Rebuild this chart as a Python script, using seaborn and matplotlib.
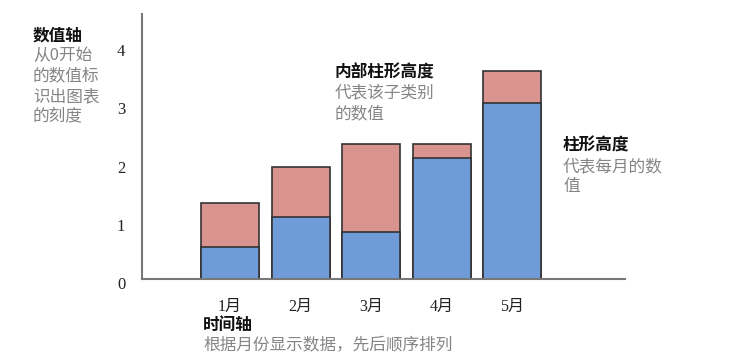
import matplotlib
matplotlib.use("Agg")
import matplotlib.pyplot as plt
import matplotlib.transforms as mtransforms
import seaborn as sns
import pandas as pd

months = ['1月', '2月', '3月', '4月', '5月']
blue_vals = [0.55, 1.07, 0.81, 2.07, 3.02]
red_vals = [0.76, 0.85, 1.50, 0.24, 0.55]
y_ticks = [0, 1, 2, 3, 4]

sns.set_theme(style="white")
plt.rcParams['font.family'] = ['Noto Sans CJK SC', 'DejaVu Sans']

totals = [b + r for b, r in zip(blue_vals, red_vals)]
df = pd.DataFrame({'month': months, 'blue': blue_vals, 'total': totals})

fig = plt.figure(figsize=(7.43, 3.58), dpi=100)
ax = fig.add_axes([142 / 743, 1 - 279 / 358, (625 - 142) / 743, (279 - 14) / 358])

edge = '#333333'
sns.barplot(data=df, x='month', y='total', color='#d9948f', saturation=1,
            width=0.82, edgecolor=edge, linewidth=1.2, ax=ax)
sns.barplot(data=df, x='month', y='blue', color='#6f9bd8', saturation=1,
            width=0.82, edgecolor=edge, linewidth=1.2, ax=ax)

ax.set_xlim(-1.25, 5.6)
ax.set_ylim(0, 4.55)
ax.set_yticks(y_ticks)
ax.set_yticklabels([str(v) for v in y_ticks])
ax.set_xlabel('')
ax.set_ylabel('')
for s in ['top', 'right']:
    ax.spines[s].set_visible(False)
for s in ['left', 'bottom']:
    ax.spines[s].set_color('#777777')
    ax.spines[s].set_linewidth(1.5)
ax.tick_params(axis='both', length=0, colors='#222222')
ax.tick_params(axis='y', pad=12)
ax.tick_params(axis='x', pad=14)
tick_font = ['Liberation Serif', 'Noto Sans CJK SC']
for lab in ax.get_xticklabels():
    lab.set_fontfamily(tick_font)
    lab.set_fontsize(11.5)
off = mtransforms.ScaledTranslation(0, -4 / 100, fig.dpi_scale_trans)
for lab in ax.get_yticklabels():
    lab.set_fontfamily(tick_font)
    lab.set_fontsize(12)
    lab.set_transform(lab.get_transform() + off)

gray = '#858585'
fs = 12


def note(x, y, title, lines):
    fig.text(x / 743, 1 - y / 358, title, fontsize=fs, fontweight='bold',
             color='#111111', va='center', ha='left')
    for i, ln in enumerate(lines):
        fig.text(x / 743, 1 - (y + 20.5 * (i + 1)) / 358, ln, fontsize=fs,
                 color=gray, va='center', ha='left')


note(33, 35, '数值轴', ['从0开始', '的数值标', '识出图表', '的刻度'])
note(335, 73, '内部柱形高度', ['代表该子类别', '的数值'])
note(563, 146, '柱形高度', ['代表每月的数', '值'])
note(203, 325, '时间轴', ['根据月份显示数据，先后顺序排列'])

fig.savefig('out.png', dpi=100, facecolor='white')
